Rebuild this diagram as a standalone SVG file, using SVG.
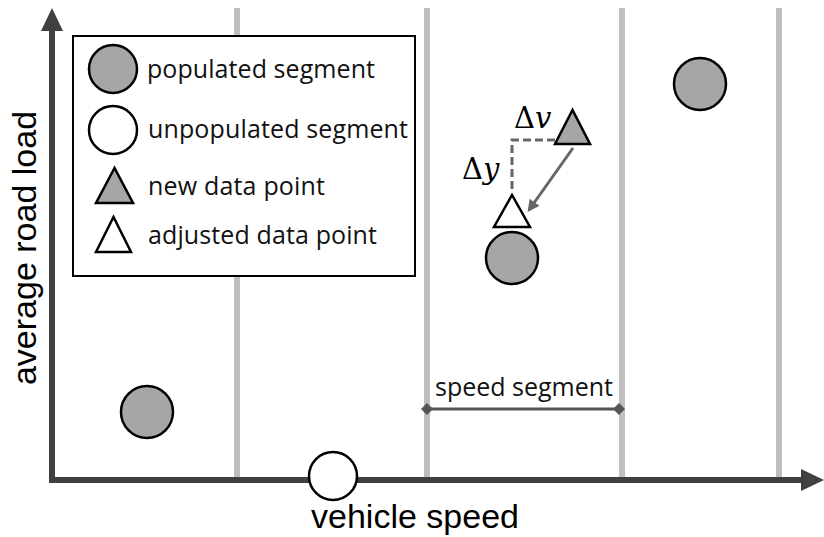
<svg xmlns="http://www.w3.org/2000/svg" width="824" height="537" viewBox="0 0 824 537">
<defs>
<style>
.grid{stroke:#bfbfbf;stroke-width:6}
.axis{stroke:#404040;stroke-width:6;fill:none}
.pop{fill:#a6a6a6;stroke:#000;stroke-width:2.5}
.unpop{fill:#fff;stroke:#000;stroke-width:2.5}
.lbl{font-family:"Open Sans","Liberation Sans",sans-serif;fill:#111;font-size:25px}
.ax{font-family:"Liberation Sans",Arial,sans-serif;font-size:34px;fill:#000}
.math{font-family:"DejaVu Serif","Liberation Serif",serif;font-size:29px;fill:#000}
.dash{stroke:#666;stroke-width:3;stroke-dasharray:8 4;fill:none}
</style>
<marker id="ah" viewBox="0 0 10 10" refX="8" refY="5" markerWidth="4" markerHeight="4" orient="auto">
<path d="M0,0 L10,5 L0,10 z" fill="#666"/>
</marker>
<marker id="dm" viewBox="0 0 10 10" refX="5" refY="5" markerWidth="4" markerHeight="4" orient="auto">
<path d="M0,5 L5,0 L10,5 L5,10 z" fill="#555"/>
</marker>
</defs>
<rect width="824" height="537" fill="#fff"/>
<g id="grid">
<line class="grid" x1="237" y1="8" x2="237" y2="477"/>
<line class="grid" x1="427" y1="8" x2="427" y2="477"/>
<line class="grid" x1="622" y1="8" x2="622" y2="477"/>
<line class="grid" x1="779" y1="8" x2="779" y2="477"/>
</g>
<g id="axes">
<line class="axis" x1="52" y1="483" x2="52" y2="26"/>
<path d="M52,8 L41,31 L63,31 z" fill="#404040"/>
<line class="axis" x1="49" y1="480" x2="806" y2="480"/>
<path d="M824,480 L801,469 L801,491 z" fill="#404040"/>
<text class="ax" x="415" y="528" text-anchor="middle">vehicle speed</text>
<text class="ax" transform="translate(36,248) rotate(-90)" text-anchor="middle">average road load</text>
</g>
<g id="legend">
<rect x="73" y="36" width="342" height="240" fill="#fff" stroke="#000" stroke-width="2"/>
<circle class="pop" cx="113" cy="69" r="24"/>
<circle class="unpop" cx="113" cy="130" r="24"/>
<path class="pop" d="M114.5,168 L96,203 L133,203 z"/>
<path class="unpop" d="M113.5,217 L96,252 L131,252 z"/>
<text class="lbl" x="147" y="78" textLength="228">populated segment</text>
<text class="lbl" x="148" y="138" textLength="260">unpopulated segment</text>
<text class="lbl" x="148" y="195" textLength="177">new data point</text>
<text class="lbl" x="148" y="244" textLength="229">adjusted data point</text>
</g>
<g id="connectors">
<path class="dash" d="M555,140 L512,140 L512,192"/>
<line x1="573" y1="148" x2="529" y2="210" stroke="#666" stroke-width="3" marker-end="url(#ah)"/>
<line x1="427" y1="409" x2="619" y2="409" stroke="#555" stroke-width="3" marker-start="url(#dm)" marker-end="url(#dm)"/>
</g>
<g id="points">
<circle class="pop" cx="700" cy="84" r="26"/>
<circle class="pop" cx="512" cy="258" r="26"/>
<circle class="pop" cx="147" cy="412" r="26"/>
<circle class="unpop" cx="333" cy="476" r="24"/>
<path class="pop" d="M572.5,110 L555,144 L590,144 z"/>
<path class="unpop" d="M512,195 L494,227 L530,227 z"/>
</g>
<g id="labels">
<text class="math" x="514" y="128"><tspan>Δ</tspan><tspan font-style="italic">v</tspan></text>
<text class="math" x="462" y="179"><tspan>Δ</tspan><tspan font-style="italic">y</tspan></text>
<text class="lbl" x="435" y="396" textLength="178">speed segment</text>
</g>
</svg>
